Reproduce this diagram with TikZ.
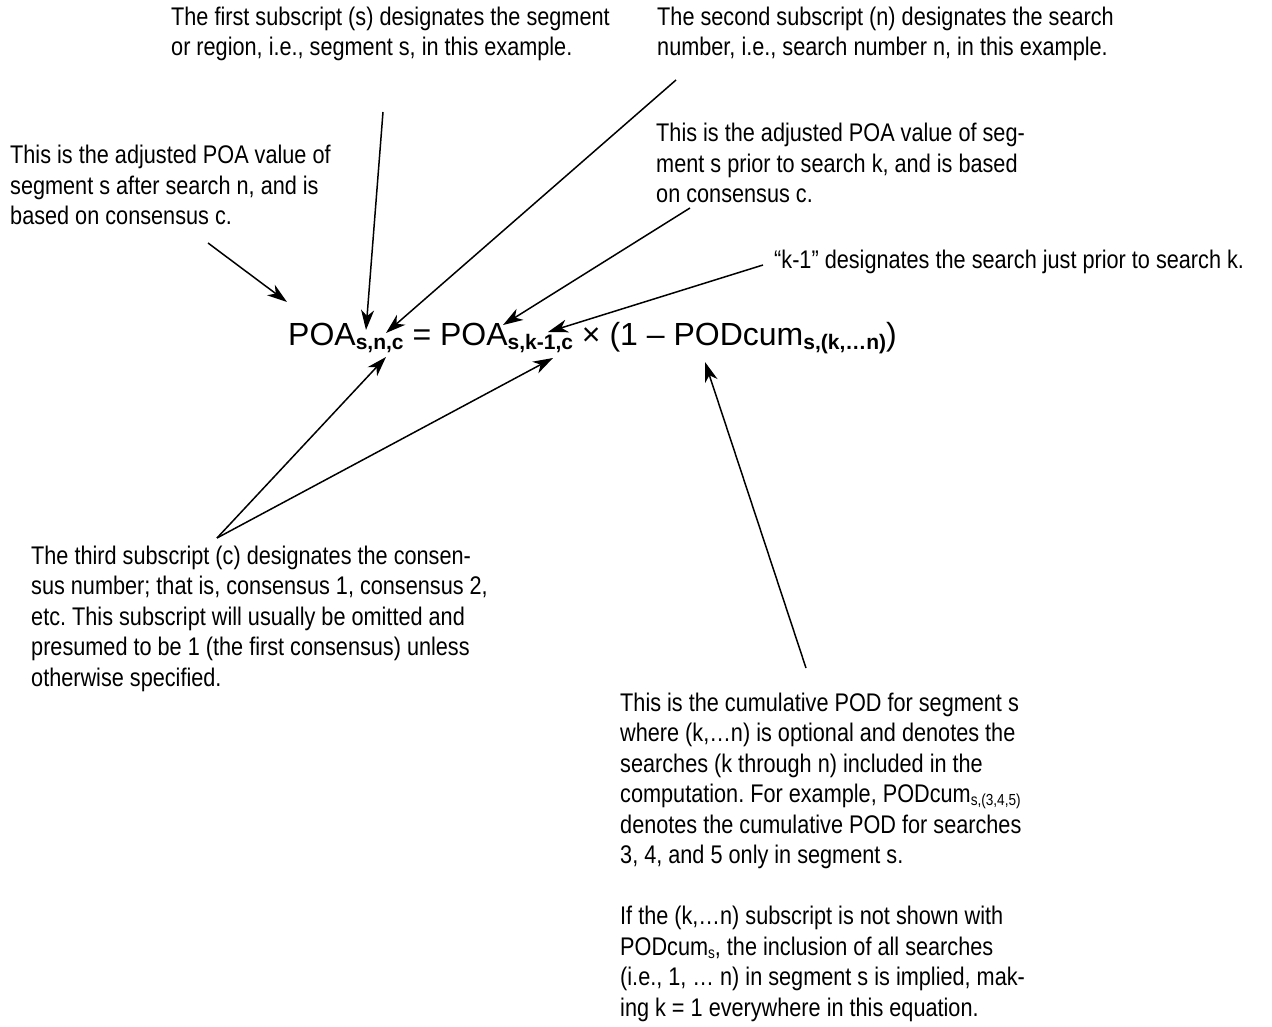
\documentclass[tikz,border=0pt]{standalone}
\usepackage{fontspec}
\setmainfont{Liberation Sans}
\newfontfamily\narrowfont[FakeStretch=0.85]{Liberation Sans}
\usetikzlibrary{arrows.meta}
\frenchspacing
\newcommand\notefont{\narrowfont\fontsize{25.5}{30.5}\selectfont}
\newcommand\eqfont{\fontsize{32}{38}\selectfont}
\newcommand\eqsub[1]{\raisebox{-4pt}{\fontsize{21}{21}\selectfont\bfseries #1}}
\newcommand\txtsub[1]{\raisebox{-3pt}{\fontsize{16}{16}\selectfont #1}}
\begin{document}
\begin{tikzpicture}[x=1pt,y=-1pt,
  note/.style={font=\notefont, anchor=base west, align=left, inner sep=0pt},
  pointer/.style={-{Stealth[length=20pt,width=13pt,inset=6pt]}, line width=1.5pt}]
\useasboundingbox (0,0) rectangle (1272,1027);

% equation
\node[anchor=base west, inner sep=0pt, font=\eqfont] (eq) at (288,345)
  {POA\eqsub{s,n,c} = POA\eqsub{s,k-1,c} × (1 – PODcum\eqsub{s,(k,…n)})};

% notes (anchor = baseline of the last line)
\node[note] (first) at (171,56) {The first subscript (s) designates the segment\\or region, i.e., segment s, in this example.};
\node[note] (second) at (657,56) {The second subscript (n) designates the search\\number, i.e., search number n, in this example.};
\node[note] (prior) at (656,203) {This is the adjusted POA value of seg-\\ment s prior to search k, and is based\\on consensus c.};
\node[note] (after) at (10,225) {This is the adjusted POA value of\\segment s after search n, and is\\based on consensus c.};
\node[note] (kone) at (774,269) {“k-1” designates the search just prior to search k.};
\node[note] (third) at (31,686) {The third subscript (c) designates the consen-\\sus number; that is, consensus 1, consensus 2,\\etc. This subscript will usually be omitted and\\presumed to be 1 (the first consensus) unless\\otherwise specified.};
\node[note] (cum) at (620,1016) {This is the cumulative POD for segment s\\where (k,…n) is optional and denotes the\\searches (k through n) included in the\\computation. For example, PODcum\txtsub{s,(3,4,5)}\\denotes the cumulative POD for searches\\3, 4, and 5 only in segment s.\\[30.5pt]If the (k,…n) subscript is not shown with\\PODcum\txtsub{s}, the inclusion of all searches\\(i.e., 1, … n) in segment s is implied, mak-\\ing k = 1 everywhere in this equation.};

% connector ends
\coordinate (tAfter) at (208,243);
\coordinate (tFirst) at (383,112);
\coordinate (tSecond) at (676,80);
\coordinate (tPrior) at (690,208);
\coordinate (tKone) at (763,265);
\coordinate (tThird) at (217,538);
\coordinate (tCum) at (806,668);

\coordinate (hPOA) at (287,302);
\coordinate (hS) at (366,330);
\coordinate (hN) at (386,333);
\coordinate (hPOA2) at (503,325);
\coordinate (hK) at (548,332);
\coordinate (hC1) at (386,357);
\coordinate (hC2) at (553,358);
\coordinate (hPOD) at (705,362);

\draw[pointer] (tAfter) -- (hPOA);
\draw[pointer] (tFirst) -- (hS);
\draw[pointer] (tSecond) -- (hN);
\draw[pointer] (tPrior) -- (hPOA2);
\draw[pointer] (tKone) -- (hK);
\draw[pointer] (tThird) -- (hC1);
\draw[pointer] (tThird) -- (hC2);
\draw[pointer] (tCum) -- (hPOD);
\end{tikzpicture}
\end{document}
